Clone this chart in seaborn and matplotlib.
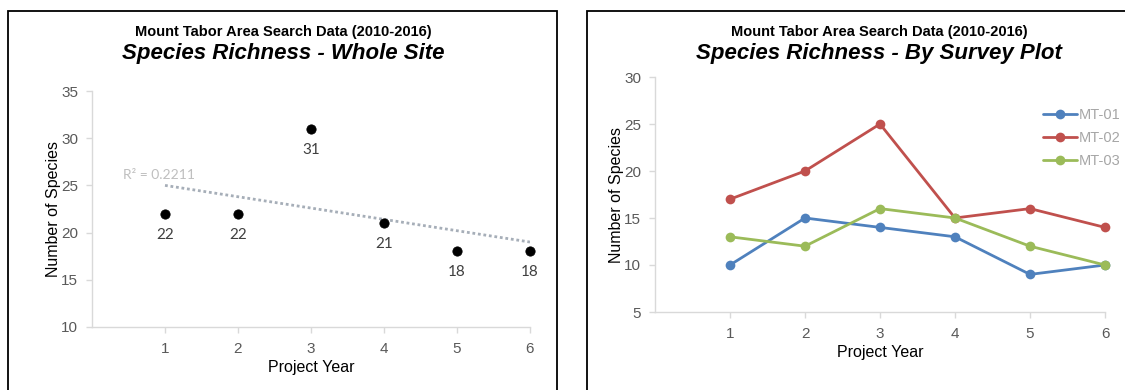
import numpy as np
import pandas as pd
import matplotlib
matplotlib.use("Agg")
import matplotlib.pyplot as plt
from matplotlib.patches import Rectangle
import seaborn as sns

# ---- data ----
years = [1, 2, 3, 4, 5, 6]
whole_site = [22, 22, 31, 21, 18, 18]
plots = ["MT-01", "MT-02", "MT-03"]
mt01 = [10, 15, 14, 13, 9, 10]
mt02 = [17, 20, 25, 15, 16, 14]
mt03 = [13, 12, 16, 15, 12, 10]

suptitle = "Mount Tabor Area Search Data (2010-2016)"
title_left = "Species Richness - Whole Site"
title_right = "Species Richness - By Survey Plot"
xlabel = "Project Year"
ylabel = "Number of Species"
colors = ["#4F81BD", "#C0504D", "#9BBB59"]

sns.set_theme(style="white")
plt.rcParams["font.family"] = ["Liberation Sans", "DejaVu Sans"]

fig = plt.figure(figsize=(11.25, 3.9), dpi=100)
W, H = 1125, 390

def fx(px):
    return px / W

def fy(py):
    return 1 - py / H

# panel borders
for x0, x1 in [(8, 557), (587, 1130)]:
    fig.patches.append(Rectangle((fx(x0), fy(400)), fx(x1 - x0), (400 - 11) / H,
                                 transform=fig.transFigure, fill=False,
                                 edgecolor="black", linewidth=1.3))

tick_col = "#595959"
spine_col = "#D9D9D9"

def style_ax(ax):
    sns.despine(ax=ax)
    for s in ["left", "bottom"]:
        ax.spines[s].set_color(spine_col)
        ax.spines[s].set_linewidth(1)
    ax.tick_params(axis="both", colors=spine_col, labelcolor=tick_col,
                   labelsize=11, length=4, width=1, direction="out",
                   bottom=True, left=True)
    ax.tick_params(axis="y", pad=6)
    ax.tick_params(axis="x", pad=7)
    ax.set_xlabel(xlabel, fontsize=11.5, color="black", labelpad=3)
    ax.set_ylabel(ylabel, fontsize=11.5, color="black", labelpad=0)

# ---- left panel ----
axL = fig.add_axes([fx(92), fy(327), fx(530 - 92), (327 - 91) / H])
df_w = pd.DataFrame({"year": years, "species": whole_site})
slope, inter = np.polyfit(years, whole_site, 1)
pred = slope * np.array(years) + inter
r2 = 1 - np.sum((np.array(whole_site) - pred) ** 2) / np.sum((np.array(whole_site) - np.mean(whole_site)) ** 2)
axL.plot([years[0], years[-1]], [slope * years[0] + inter, slope * years[-1] + inter],
         linestyle=(0, (1, 1)), color="#A6AEB8", linewidth=2, zorder=1)
sns.scatterplot(data=df_w, x="year", y="species", ax=axL, color="black",
                s=45, edgecolor="black", zorder=3, legend=False, clip_on=False)
for x, y in zip(years, whole_site):
    axL.annotate(str(y), (x, y), xytext=(0, -15), textcoords="offset points",
                 ha="center", va="center", fontsize=11, color="#404040",
                 family=["Lato", "DejaVu Sans"])
axL.text(0.42, 26.1, f"R² = {r2:.4f}", fontsize=10, color="#BFBFBF",
         ha="left", va="center", family=["Lato", "DejaVu Sans"])
axL.set_xlim(0, 6)
axL.set_ylim(10, 35)
axL.set_xticks(years)
axL.set_yticks(range(10, 36, 5))
style_ax(axL)

# ---- right panel ----
axR = fig.add_axes([fx(655), fy(312), fx(1105 - 655), (312 - 77) / H])
df_p = pd.DataFrame({
    "year": years * 3,
    "species": mt01 + mt02 + mt03,
    "plot": [p for p in plots for _ in years],
})
sns.lineplot(data=df_p, x="year", y="species", hue="plot", palette=colors,
             marker="o", markersize=7, markeredgewidth=0, linewidth=2, ax=axR,
             clip_on=False)
axR.set_xlim(0, 6)
axR.set_ylim(5, 30)
axR.set_xticks(years)
axR.set_yticks(range(5, 31, 5))
style_ax(axR)
leg = axR.legend(loc="upper left", bbox_to_anchor=(fx(1036 - 655) / fx(450), 1 - (101 - 77) / 235),
                 frameon=False, fontsize=10.5, handlelength=2.3, handletextpad=0.1,
                 labelspacing=0.6, borderpad=0)
for t in leg.get_texts():
    t.set_color("#A6A6A6")

# titles
for cx, t in [(283, title_left), (879, title_right)]:
    fig.text(fx(cx), fy(32), suptitle, ha="center", va="center",
             fontsize=10.5, fontweight="bold", color="black")
    fig.text(fx(cx), fy(53), t, ha="center", va="center",
             fontsize=16, fontweight="bold", fontstyle="italic", color="black")

fig.savefig("out.png", dpi=100)
